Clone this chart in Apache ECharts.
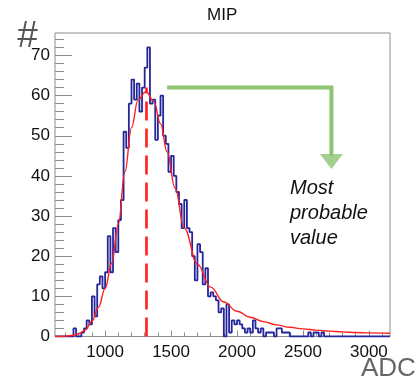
<!DOCTYPE html>
<html>
<head>
<meta charset="utf-8">
<title>MIP</title>
<script src="https://cdn.jsdelivr.net/npm/echarts@6.0.0/dist/echarts.min.js"></script>
<style>
  html, body { margin: 0; padding: 0; background: #fff; }
  #chart { width: 419px; height: 381px; }
</style>
</head>
<body>
<div id="chart"></div>
<script>
// histogram: 20 ADC bins starting at 620
const binStart = 620;
const binWidth = 20;
const counts = [
  0, 0, 0, 0, 0, 0, 0, 2, 0, 0,
  1, 2, 4, 3, 10, 5, 13, 15, 12, 16,
  25, 16, 27, 21, 29, 34, 51, 47, 58, 64,
  59, 63, 56, 62, 67, 72, 58, 59, 49, 55,
  60, 50, 48, 41, 45, 40, 36, 33, 27, 34,
  27, 26, 20, 14, 23, 21, 13, 17, 10, 11,
  10, 9, 6, 7, 0, 8, 1, 4, 3, 4,
  3, 2, 1, 2, 1, 4, 2, 1, 2, 0,
  1, 1, 1, 0, 2, 2, 1, 1, 1, 0,
  0, 0, 0, 0, 0, 0, 1, 0, 1, 1,
  0, 1, 0, 0, 0, 0, 0, 0, 0, 0,
  0, 0, 0, 0, 0, 0, 0, 0, 0, 0,
  0, 0, 0, 0, 0, 0, 0
];

// landau fit
const fitAdc = [620, 700, 760, 800, 850, 900, 950, 1000, 1050, 1100, 1150, 1200, 1250, 1310,
  1370, 1420, 1470, 1530, 1600, 1700, 1800, 1900, 2000, 2100, 2200, 2300, 2400, 2500,
  2600, 2700, 2800, 2900, 3000, 3160];
const fitCount = [0, 0.1, 0.3, 0.7, 1.6, 3.8, 7.3, 12, 18.3, 28, 41, 52, 59, 61,
  58.5, 53, 46, 37, 27, 18, 12.3, 8.6, 6.3, 4.8, 3.7, 2.9, 2.3, 1.9,
  1.6, 1.35, 1.15, 1.0, 0.9, 0.8];

// most probable value marker + arrow
const mpv = 1310;
const mpvHeight = 62;
const arrowStart = 1470;
const arrowCorner = 2716;
const arrowLineEnd = 45;
const arrowHead = 43.6;

const xMajorTicks = [1000, 1500, 2000, 2500, 3000];
const xMinorTicks = [700, 800, 900, 1100, 1200, 1300, 1400, 1600, 1700, 1800, 1900,
  2100, 2200, 2300, 2400, 2600, 2700, 2800, 2900, 3100];
const yMajorTicks = [0, 10, 20, 30, 40, 50, 60, 70];
const yMinorTicks = [2, 4, 6, 8, 12, 14, 16, 18, 22, 24, 26, 28, 32, 34, 36, 38,
  42, 44, 46, 48, 52, 54, 56, 58, 62, 64, 66, 68, 72, 74];

const xMin = 620, xMax = 3160;
const yMin = 0, yMax = 75.6;

const histData = counts.map((c, i) => [binStart + i * binWidth, c]);
histData.push([binStart + counts.length * binWidth, counts[counts.length - 1]]);
const fitData = fitAdc.map((x, i) => [x, fitCount[i]]);

const font = '"Liberation Sans", Arial, sans-serif';
const frameColor = '#8c8c8c';

const chart = echarts.init(document.getElementById('chart'), null, { renderer: 'canvas' });

const options = {
  animation: false,
  backgroundColor: '#fff',
  title: {
    text: 'MIP',
    left: 207,
    top: 7,
    padding: 0,
    textStyle: { fontFamily: font, fontSize: 17, fontWeight: 'normal', color: '#111' }
  },
  grid: {
    left: 55, right: 29, top: 33, bottom: 44.5,
    show: true, borderColor: frameColor, borderWidth: 1,
    outerBoundsMode: 'none'
  },
  xAxis: [
    {
      type: 'value', min: xMin, max: xMax,
      axisLine: { show: false },
      splitLine: { show: false },
      axisTick: {
        show: true, inside: true, length: 6, customValues: xMajorTicks,
        lineStyle: { color: frameColor }
      },
      axisLabel: {
        customValues: xMajorTicks, margin: 7,
        formatter: v => String(v),
        fontFamily: font, fontSize: 17, color: '#111'
      }
    },
    {
      type: 'value', min: xMin, max: xMax, position: 'bottom',
      axisLine: { show: false },
      splitLine: { show: false },
      axisLabel: { show: false },
      axisTick: {
        show: true, inside: true, length: 4, customValues: xMinorTicks,
        lineStyle: { color: frameColor }
      }
    }
  ],
  yAxis: [
    {
      type: 'value', min: yMin, max: yMax,
      axisLine: { show: false },
      splitLine: { show: false },
      axisTick: {
        show: true, inside: true, length: 17, customValues: yMajorTicks,
        lineStyle: { color: frameColor }
      },
      axisLabel: {
        customValues: yMajorTicks, margin: 5,
        fontFamily: font, fontSize: 17, color: '#111'
      }
    },
    {
      type: 'value', min: yMin, max: yMax, position: 'left',
      axisLine: { show: false },
      splitLine: { show: false },
      axisLabel: { show: false },
      axisTick: {
        show: true, inside: true, length: 9, customValues: yMinorTicks,
        lineStyle: { color: frameColor }
      }
    }
  ],
  series: [
    {
      name: 'MIP',
      type: 'line',
      step: 'end',
      data: histData,
      showSymbol: false,
      lineStyle: { color: '#25259c', width: 1.8 },
      z: 2
    },
    {
      name: 'fit',
      type: 'line',
      smooth: 0.4,
      smoothMonotone: 'x',
      data: fitData,
      showSymbol: false,
      lineStyle: { color: '#ff1f1f', width: 1.4 },
      z: 3,
      markLine: {
        silent: true,
        symbol: ['none', 'none'],
        label: { show: false },
        lineStyle: { color: '#ff1f1f', width: 2.6, type: [19, 8] },
        data: [[{ coord: [mpv, 0] }, { coord: [mpv, mpvHeight] }]]
      }
    },
    {
      name: 'arrow',
      type: 'line',
      data: [[arrowStart, mpvHeight], [arrowCorner, mpvHeight], [arrowCorner, arrowLineEnd]],
      showSymbol: false,
      lineStyle: { color: '#8cc472', width: 4, join: 'miter', cap: 'butt' },
      z: 4
    },
    {
      name: 'arrowHead',
      type: 'scatter',
      data: [[arrowCorner, arrowHead]],
      symbol: 'triangle',
      symbolRotate: 180,
      symbolSize: [23, 15],
      itemStyle: { color: '#8cc472' },
      z: 4
    }
  ],
  graphic: [
    {
      type: 'text', x: 27.5, y: 37,
      style: {
        text: '#', font: '37px ' + font, fill: '#555',
        textAlign: 'center', textVerticalAlign: 'middle'
      }
    },
    {
      type: 'text', x: 361, y: 369,
      style: {
        text: 'ADC', font: '26px ' + font, fill: '#666',
        textAlign: 'left', textVerticalAlign: 'middle'
      }
    },
    {
      type: 'text', x: 290, y: 176,
      style: {
        text: 'Most\nprobable\nvalue', font: 'italic 20px ' + font, fill: '#111',
        lineHeight: 25, textAlign: 'left', textVerticalAlign: 'top'
      }
    }
  ]
};

chart.setOption(options);
</script>
</body>
</html>
